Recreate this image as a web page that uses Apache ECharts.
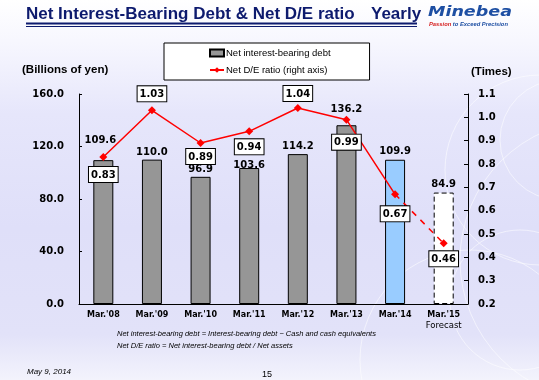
<!DOCTYPE html>
<html>
<head>
<meta charset="utf-8">
<script src="https://cdn.jsdelivr.net/npm/echarts@6/dist/echarts.min.js"></script>
<style>
html,body{margin:0;padding:0;background:#fff;}
#c{width:539px;height:380px;}
</style>
</head>
<body>
<div id="c"></div>
<script>
// ---- data ----
var categories = ["Mar.'08", "Mar.'09", "Mar.'10", "Mar.'11", "Mar.'12", "Mar.'13", "Mar.'14", "Mar.'15"];
var debtValues = [109.6, 110.0, 96.9, 103.6, 114.2, 136.2, 109.9, 84.9];
var deRatio = [0.83, 1.03, 0.89, 0.94, 1.04, 0.99, 0.67, 0.46];
var leftTicks = [0, 40, 80, 120, 160];
var rightTicks = [0.2, 0.3, 0.4, 0.5, 0.6, 0.7, 0.8, 0.9, 1.0, 1.1];
var seriesNames = ['Net interest-bearing debt', 'Net D/E ratio (right axis)'];

// ---- styling (not data) ----
var barColors = ['#969696', '#969696', '#969696', '#969696', '#969696', '#969696', '#99ccff', '#ffffff'];
var barLabelDist = [15, 2, 2, -2, 3, 11, 3, 3];
var barLabelOffX = [-3, 0, 0, 0, 0, 0, 0, 0];
var lineLabelPos = ['bottom', 'top', 'bottom', 'bottom', 'top', 'bottom', 'bottom', 'bottom'];
var lineLabelDist = [6, 5, 2, 4, 3, 11, 8, 4];

var chart = echarts.init(document.getElementById('c'), null, {renderer: 'canvas'});

var font = 'DejaVu Sans';
var sans = '"Liberation Sans", Arial, sans-serif';
var barData = debtValues.map(function (v, i) {
  var it = {
    value: v,
    itemStyle: {color: barColors[i], borderColor: '#000', borderWidth: 1},
    label: {distance: barLabelDist[i], offset: [barLabelOffX[i], 0]}
  };
  if (i === debtValues.length - 1) {
    it.itemStyle.borderType = [5, 3];
  }
  return it;
});

var lastIdx = deRatio.length - 1;
function lineItem(v, i) {
  return {
    value: v,
    label: {position: lineLabelPos[i], distance: lineLabelDist[i]}
  };
}
var solidData = deRatio.map(function (v, i) { return i < lastIdx ? lineItem(v, i) : '-'; });
var dashData = deRatio.map(function (v, i) {
  if (i === lastIdx) return lineItem(v, i);
  if (i === lastIdx - 1) return {value: v, symbol: 'none', label: {show: false}};
  return '-';
});

var lineLabel = {
  show: true,
  formatter: function (p) { return p.value.toFixed(2); },
  color: '#000',
  fontFamily: font,
  fontWeight: 'bold',
  fontSize: 10,
  backgroundColor: '#fff',
  borderColor: '#000',
  borderWidth: 1,
  padding: [3, 2, 2, 2]
};

var circles = [];
[[560, 140, 60], [540, 170, 95], [600, 260, 140], [520, 300, 70], [470, 360, 110]].forEach(function (c) {
  circles.push({
    type: 'circle', z: 0, silent: true,
    shape: {cx: c[0], cy: c[1], r: c[2]},
    style: {fill: 'none', stroke: 'rgba(255,255,255,0.55)', lineWidth: 1}
  });
});

var option = {
  animation: false,
  backgroundColor: {
    type: 'linear', x: 0, y: 0, x2: 0, y2: 1,
    colorStops: [
      {offset: 0, color: '#ffffff'},
      {offset: 0.12, color: '#f6f6fe'},
      {offset: 0.3, color: '#e6e6fb'},
      {offset: 0.6, color: '#dfdff9'},
      {offset: 0.88, color: '#e2e2f9'},
      {offset: 1, color: '#f3f3fc'}
    ]
  },
  graphic: circles.concat([
    {type: 'text', left: 26, top: 6, z: 100,
      style: {text: 'Net Interest-Bearing Debt & Net D/E ratio', fill: '#0d1a6e', font: 'bold 17px ' + sans}},
    {type: 'text', left: 371, top: 6, z: 100,
      style: {text: 'Yearly', fill: '#0d1a6e', font: 'bold 17px ' + sans}},
    {type: 'line', z: 100, shape: {x1: 26, y1: 23.5, x2: 417, y2: 23.5}, style: {stroke: '#0d1a6e', lineWidth: 1.8}},
    {type: 'line', z: 100, shape: {x1: 26, y1: 26.5, x2: 417, y2: 26.5}, style: {stroke: '#0d1a6e', lineWidth: 1}},
    {type: 'text', x: 428, y: 5, scaleX: 1.25, z: 100,
      style: {text: 'Minebea', fill: '#1e4fa3', font: 'italic bold 14px "DejaVu Sans", sans-serif'}},
    {type: 'text', left: 429, top: 21, z: 100,
      style: {
        text: '{r|Passion}{b| to Exceed Precision}',
        rich: {
          r: {fill: '#d62020', font: 'italic bold 5.8px ' + sans},
          b: {fill: '#1e4fa3', font: 'italic bold 5.8px ' + sans}
        }
      }},
    {type: 'text', left: 22, top: 64, z: 100,
      style: {text: '(Billions of yen)', fill: '#000', font: 'bold 11.5px ' + sans}},
    {type: 'text', left: 471, top: 66, z: 100,
      style: {text: '(Times)', fill: '#000', font: 'bold 11.5px ' + sans}},
    {type: 'text', left: 117, top: 330, z: 100,
      style: {text: 'Net interest-bearing debt = Interest-bearing debt \u2212 Cash and cash equivalents', fill: '#000', font: 'italic 7.5px ' + sans}},
    {type: 'text', left: 117, top: 342, z: 100,
      style: {text: 'Net D/E ratio = Net interest-bearing debt / Net assets', fill: '#000', font: 'italic 7.5px ' + sans}},
    {type: 'text', left: 27, top: 368, z: 100,
      style: {text: 'May 9, 2014', fill: '#000', font: 'italic 8px ' + sans}},
    {type: 'text', left: 262, top: 370, z: 100,
      style: {text: '15', fill: '#000', font: '9px ' + sans}}
  ]),
  legend: {
    data: [
      {name: seriesNames[0], icon: 'rect'},
      {name: seriesNames[1]}
    ],
    orient: 'vertical',
    left: 164,
    top: 43,
    padding: [5, 39, 5, 45],
    itemGap: 7,
    itemWidth: 14,
    itemHeight: 7,
    backgroundColor: '#fff',
    borderColor: '#000',
    borderWidth: 1,
    borderRadius: 0,
    textStyle: {fontFamily: sans, fontSize: 9.5, color: '#000', padding: [0, 0, 0, -3]}
  },
  grid: {left: 79, right: 71, top: 94, bottom: 76, containLabel: false},
  xAxis: {
    type: 'category',
    data: categories,
    axisLine: {lineStyle: {color: '#000', width: 1}},
    axisTick: {inside: true, length: 4, interval: 0, lineStyle: {color: '#000'}},
    axisLabel: {
      interval: 0,
      margin: 5,
      color: '#000',
      fontFamily: font,
      fontWeight: 'bold',
      fontSize: 8,
      lineHeight: 11,
      formatter: function (v, i) {
        return i === categories.length - 1 ? v + '\n{f|Forecast}' : v;
      },
      rich: {f: {fontFamily: font, fontWeight: 'normal', fontSize: 8.5, color: '#000', lineHeight: 11}}
    }
  },
  yAxis: [
    {
      type: 'value',
      min: leftTicks[0],
      max: leftTicks[leftTicks.length - 1],
      interval: leftTicks[1] - leftTicks[0],
      axisLine: {show: true, lineStyle: {color: '#000', width: 1}},
      axisTick: {show: true, inside: true, length: 3, lineStyle: {color: '#000'}},
      splitLine: {show: false},
      axisLabel: {
        margin: 15,
        color: '#000',
        fontFamily: font,
        fontWeight: 'bold',
        fontSize: 10,
        formatter: function (v) { return v.toFixed(1); }
      }
    },
    {
      type: 'value',
      position: 'right',
      min: rightTicks[0],
      max: rightTicks[rightTicks.length - 1],
      interval: 0.1,
      axisLine: {show: true, lineStyle: {color: '#000', width: 1}},
      axisTick: {show: true, inside: true, length: 4, lineStyle: {color: '#000'}},
      splitLine: {show: false},
      axisLabel: {
        margin: 10,
        color: '#000',
        fontFamily: font,
        fontWeight: 'bold',
        fontSize: 10,
        formatter: function (v) { return (Math.round(v * 10) / 10).toFixed(1); }
      }
    }
  ],
  series: [
    {
      name: seriesNames[0],
      type: 'bar',
      yAxisIndex: 0,
      barWidth: 20,
      data: barData,
      itemStyle: {color: '#969696', borderColor: '#000', borderWidth: 1},
      label: {
        show: true,
        position: 'top',
        color: '#000',
        fontFamily: font,
        fontWeight: 'bold',
        fontSize: 10,
        formatter: function (p) { return p.value.toFixed(1); }
      },
      z: 2
    },
    {
      name: seriesNames[1],
      type: 'line',
      yAxisIndex: 1,
      data: solidData,
      symbol: 'diamond',
      symbolSize: 8,
      itemStyle: {color: '#ff0000'},
      lineStyle: {color: '#ff0000', width: 1.5},
      label: lineLabel,
      z: 5
    },
    {
      name: 'dash',
      type: 'line',
      yAxisIndex: 1,
      data: dashData,
      symbol: 'diamond',
      symbolSize: 8,
      itemStyle: {color: '#ff0000'},
      lineStyle: {color: '#ff0000', width: 1.5, type: [6, 6]},
      label: lineLabel,
      z: 5
    }
  ]
};
chart.setOption(option);
</script>
</body>
</html>
